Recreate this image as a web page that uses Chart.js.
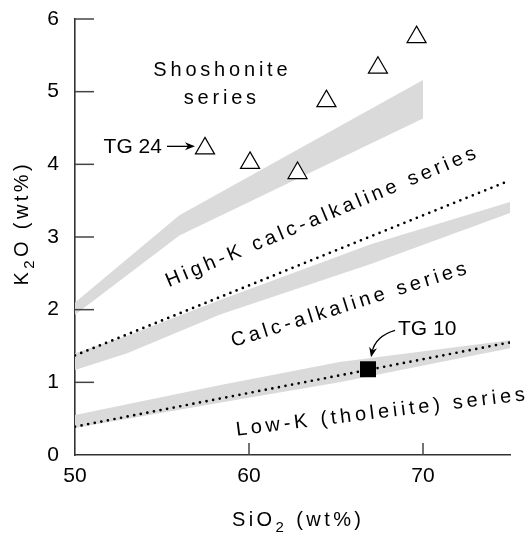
<!DOCTYPE html>
<html><head><meta charset="utf-8">
<script src="https://cdn.jsdelivr.net/npm/chart.js@4.4.0/dist/chart.umd.min.js"></script>
<style>html,body{margin:0;padding:0;background:#fff;}</style>
</head><body>
<canvas id="c" width="529" height="536"></canvas>
<script>
// ---- data ----
const xTicks = [50, 60, 70];
const yTicks = [0, 1, 2, 3, 4, 5, 6];

const shoshoniteBandX = [50, 56, 70];
const shoshoniteBandTop = [2.10, 3.30, 5.16];
const shoshoniteBandBottom = [1.93, 3.02, 4.63];

const calcAlkBandX = [50, 53, 58.3, 67, 75];
const calcAlkBandTop = [1.40, 1.64, 2.13, 2.90, 3.48];
const calcAlkBandBottom = [1.17, 1.40, 1.93, 2.63, 3.33];

const lowKBandX = [50, 58.3, 65.2, 75];
const lowKBandTop = [0.55, 0.96, 1.28, 1.58];
const lowKBandBottom = [0.37, 0.72, 1.00, 1.47];

const highKLineX = [50, 75];
const highKLineY = [1.37, 3.78];
const lowKLineX = [50, 75];
const lowKLineY = [0.39, 1.55];

const sampleSiO2 = [57.47, 60.06, 62.79, 64.45, 67.41, 69.63];
const sampleK2O = [4.22, 4.02, 3.88, 4.87, 5.33, 5.75];
const tg10SiO2 = [66.84];
const tg10K2O = [1.18];

const seriesLabels = ['Shoshonite', 'series', 'High-K calc-alkaline series', 'Calc-alkaline series', 'Low-K (tholeiite) series'];
const seriesLabelX = [58.36, 58.33, 64.25, 65.83, 67.59];
const seriesLabelY = [5.21, 4.83, 3.20, 1.99, 0.51];
const seriesLabelAngle = [0, 0, -22.75, -17.4, -7];

const xTitle = ['SiO', '2', ' (wt%)'];
const yTitle = ['K', '2', 'O (wt%)'];

// ---- helpers ----
const pts = (xs, ys) => xs.map((x, i) => ({x: x, y: ys[i]}));
const FAM = '"Liberation Sans", Arial, Helvetica, sans-serif';
const BAND = '#dadada';

function bandPair(xs, top, bottom, topIndex) {
  return [
    {data: pts(xs, top), showLine: true, borderWidth: 0, pointRadius: 0, fill: false, borderColor: 'rgba(0,0,0,0)'},
    {data: pts(xs, bottom), showLine: true, borderWidth: 0, pointRadius: 0, borderColor: 'rgba(0,0,0,0)', backgroundColor: BAND, fill: topIndex}
  ];
}

const datasets = [
  {data: pts(sampleSiO2, sampleK2O), pointStyle: 'triangle', pointRadius: 11, pointBorderWidth: 1.2,
   pointBorderColor: '#000', pointBackgroundColor: '#fff', showLine: false},
  {data: pts(tg10SiO2, tg10K2O), pointStyle: 'rect', pointRadius: 11.3, pointBorderWidth: 0,
   pointBackgroundColor: '#000', showLine: false},
  {data: pts(highKLineX, highKLineY), showLine: true, borderColor: '#000', borderWidth: 2.7,
   borderDash: [0, 6.7], borderCapStyle: 'round', pointRadius: 0, fill: false},
  {data: pts(lowKLineX, lowKLineY), showLine: true, borderColor: '#000', borderWidth: 2.7,
   borderDash: [0, 6.7], borderCapStyle: 'round', pointRadius: 0, fill: false},
  ...bandPair(shoshoniteBandX, shoshoniteBandTop, shoshoniteBandBottom, 4),
  ...bandPair(calcAlkBandX, calcAlkBandTop, calcAlkBandBottom, 6),
  ...bandPair(lowKBandX, lowKBandTop, lowKBandBottom, 8)
];

function drawParts(ctx, parts, x0, y0, ls) {
  let x = x0;
  ctx.letterSpacing = ls + 'px';
  ctx.font = '20px ' + FAM; ctx.fillText(parts[0], x, y0); x += ctx.measureText(parts[0]).width;
  ctx.font = '15px ' + FAM; ctx.fillText(parts[1], x, y0 + 6); x += ctx.measureText(parts[1]).width;
  ctx.font = '20px ' + FAM; ctx.fillText(parts[2], x, y0); x += ctx.measureText(parts[2]).width;
  return x - x0 - ls;
}
function partsWidth(ctx, parts, ls) {
  ctx.letterSpacing = ls + 'px';
  let w = 0;
  ctx.font = '20px ' + FAM; w += ctx.measureText(parts[0]).width;
  ctx.font = '15px ' + FAM; w += ctx.measureText(parts[1]).width;
  ctx.font = '20px ' + FAM; w += ctx.measureText(parts[2]).width;
  return w - ls;
}

function arrowHead(ctx, tx, ty, ang, len, half) {
  ctx.beginPath();
  ctx.moveTo(tx, ty);
  ctx.lineTo(tx - len * Math.cos(ang) + half * Math.sin(ang), ty - len * Math.sin(ang) - half * Math.cos(ang));
  ctx.lineTo(tx - len * 0.7 * Math.cos(ang), ty - len * 0.7 * Math.sin(ang));
  ctx.lineTo(tx - len * Math.cos(ang) - half * Math.sin(ang), ty - len * Math.sin(ang) + half * Math.cos(ang));
  ctx.closePath();
  ctx.fill();
}

const annot = {
  id: 'annot',
  afterDraw(chart) {
    const {ctx, chartArea: a} = chart;
    const sx = chart.scales.x, sy = chart.scales.y;
    ctx.save();
    // inward tick marks
    ctx.strokeStyle = '#444'; ctx.lineWidth = 1.5;
    yTicks.forEach(v => {
      if (v === 0) return;
      const py = sy.getPixelForValue(v);
      ctx.beginPath(); ctx.moveTo(a.left, py); ctx.lineTo(a.left + 19, py); ctx.stroke();
    });
    xTicks.forEach(v => {
      if (v === xTicks[0]) return;
      const px = sx.getPixelForValue(v);
      ctx.beginPath(); ctx.moveTo(px, a.bottom); ctx.lineTo(px, a.bottom - 12); ctx.stroke();
    });

    // series labels
    ctx.fillStyle = '#000';
    ctx.textBaseline = 'alphabetic';
    ctx.textAlign = 'left';
    ctx.font = '20px ' + FAM;
    const ls = 3.8;
    seriesLabels.forEach((t, i) => {
      ctx.save();
      ctx.letterSpacing = ls + 'px';
      const w = ctx.measureText(t).width - ls;
      ctx.translate(sx.getPixelForValue(seriesLabelX[i]), sy.getPixelForValue(seriesLabelY[i]));
      ctx.rotate(seriesLabelAngle[i] * Math.PI / 180);
      ctx.fillText(t, -w / 2, 0);
      ctx.restore();
    });

    // TG 24 label + arrow
    ctx.letterSpacing = '0px';
    const t24x = sx.getPixelForValue(sampleSiO2[0]);
    const t24y = sy.getPixelForValue(sampleK2O[0]);
    ctx.font = '21px ' + FAM;
    ctx.textAlign = 'right';
    ctx.fillText('TG 24', t24x - 43, t24y + 5);
    ctx.strokeStyle = '#000'; ctx.lineWidth = 1.3;
    const ay = t24y - 2;
    ctx.beginPath(); ctx.moveTo(t24x - 38, ay); ctx.lineTo(t24x - 14, ay); ctx.stroke();
    arrowHead(ctx, t24x - 10, ay, 0, 10, 4);

    // TG 10 label + curved arrow
    const t10x = sx.getPixelForValue(tg10SiO2[0]);
    const t10y = sy.getPixelForValue(tg10K2O[0]);
    ctx.textAlign = 'left';
    ctx.fillText('TG 10', t10x + 30, t10y - 34);
    ctx.beginPath();
    ctx.moveTo(t10x + 27, t10y - 39);
    ctx.quadraticCurveTo(t10x + 7, t10y - 33, t10x + 4, t10y - 17);
    ctx.stroke();
    arrowHead(ctx, t10x + 3, t10y - 12, Math.atan2(14, -3), 10, 4);

    // axis titles
    ctx.textAlign = 'left';
    const tls = 3.4;
    const wx = partsWidth(ctx, xTitle, tls);
    drawParts(ctx, xTitle, (a.left + a.right) / 2 + 4 - wx / 2, 526, tls);
    const wy = partsWidth(ctx, yTitle, tls);
    ctx.save();
    ctx.translate(28, 225);
    ctx.rotate(-Math.PI / 2);
    drawParts(ctx, yTitle, -wy / 2, 0, tls);
    ctx.restore();
    ctx.restore();
  }
};

new Chart(document.getElementById('c'), {
  type: 'scatter',
  data: {datasets: datasets},
  options: {
    responsive: false,
    animation: false,
    layout: {padding: {top: 19, right: 19, left: 0, bottom: 0}},
    plugins: {legend: {display: false}, tooltip: {enabled: false}},
    scales: {
      x: {
        type: 'linear', min: 50, max: 75,
        afterBuildTicks: s => { s.ticks = xTicks.map(v => ({value: v})); },
        afterFit: s => { s.height = 81; s.paddingLeft = 0; s.paddingRight = 0; },
        grid: {display: true, drawOnChartArea: false, drawTicks: false},
        border: {display: true, color: '#333', width: 1.6},
        ticks: {color: '#000', padding: 9, font: {family: FAM, size: 21}, maxRotation: 0}
      },
      y: {
        type: 'linear', min: 0, max: 6,
        afterBuildTicks: s => { s.ticks = yTicks.map(v => ({value: v})); },
        afterFit: s => { s.width = 75; s.paddingTop = 0; s.paddingBottom = 0; },
        grid: {display: true, drawOnChartArea: false, drawTicks: false},
        border: {display: true, color: '#333', width: 1.6},
        ticks: {color: '#000', padding: 16, font: {family: FAM, size: 21}}
      }
    }
  },
  plugins: [annot]
});
</script>
</body></html>
